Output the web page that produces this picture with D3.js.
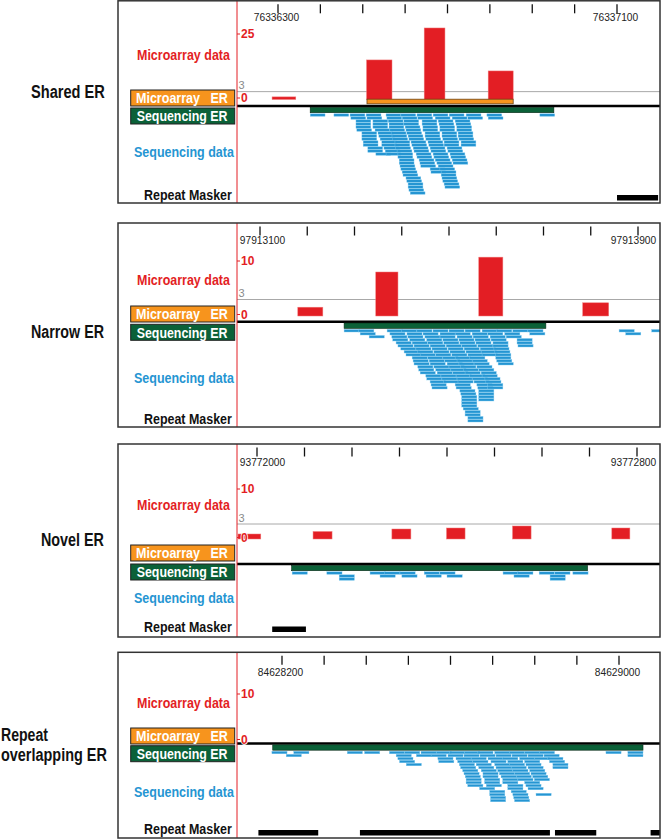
<!DOCTYPE html>
<html>
<head>
<meta charset="utf-8">
<script src="https://cdn.jsdelivr.net/npm/d3@7"></script>
<style>
  body { margin: 0; background: #fff; }
  svg { display: block; }
</style>
</head>
<body>
<script>
// ---- data (genomic positions are bp offsets from each region's first tick) ----

// Shared ER
const p1Region = [76336300, 76337100];
const p1Probes = [[-14, 42, 1.0], [209, 269, 15.1], [345, 394, 27.3], [496, 555, 10.9]];
const p1ArrayER = [[210, 555]];
const p1SeqER = [[76, 651]];
const p1Repeats = [[800, 897]];
const p1Reads = [
  [76, 132, 170, 208, 255, 290, 328, 366, 404, 444, 493, 618],
  [172, 210, 257, 293, 330, 371, 411, 448, 496],
  [184, 224, 260, 297, 340, 378, 418],
  [184, 224, 262, 297, 340, 380, 420],
  [184, 224, 262, 300, 342, 382, 422],
  [186, 229, 264, 302, 342, 382, 422],
  [198, 236, 267, 304, 347, 387, 425],
  [198, 238, 269, 307, 347, 387, 425],
  [198, 241, 271, 309, 349, 389, 427],
  [201, 245, 276, 314, 354, 392, 432],
  [201, 245, 276, 316, 356, 392, 432],
  [212, 250, 278, 319, 359, 399],
  [212, 253, 281, 321, 361, 401],
  [231, 255, 283, 326, 366, 406],
  [283, 328, 368, 408],
  [286, 333, 371, 411],
  [286, 335, 375, 413],
  [288, 337, 378],
  [290, 359, 382],
  [293, 361, 385],
  [295, 385],
  [302, 387],
  [304, 389],
  [307, 392],
  [307, 394],
  [309],
  [312]
];

// Narrow ER
const p2Region = [97913100, 97913900];
const p2Probes = [[80, 133, 1.6], [245, 292, 8.0], [463, 514, 10.7], [683, 738, 2.4]];
const p2ArrayER = [];
const p2SeqER = [[178, 605]];
const p2Repeats = [];
const p2Reads = [
  [178, 209, 269, 300, 332, 366, 400, 434, 470, 501, 535, 567, 760, 829],
  [212, 275, 311, 345, 381, 413, 449, 482, 518, 571, 774],
  [231, 279, 313, 349, 381, 417, 451, 487, 521],
  [281, 317, 353, 387, 421, 455, 489, 544],
  [288, 322, 355, 389, 423, 457, 493, 544],
  [292, 326, 360, 394, 427, 461, 493, 546],
  [298, 330, 364, 398, 432, 466, 495],
  [305, 334, 368, 402, 436, 468, 497],
  [309, 339, 372, 406, 440, 470, 499],
  [322, 355, 387, 413, 444, 499],
  [324, 358, 391, 417, 449, 501],
  [326, 360, 396, 421, 453, 504],
  [334, 368, 400, 425, 459],
  [336, 372, 404, 430, 463],
  [339, 375, 408, 434, 468],
  [351, 383, 415, 444, 470],
  [353, 385, 417, 449, 476],
  [360, 389, 419, 453, 478],
  [362, 413, 459, 482],
  [364, 415, 461, 482],
  [423, 463],
  [425, 463],
  [427, 463],
  [427, 463],
  [427],
  [427],
  [430],
  [434],
  [434],
  [440],
  [440]
];

// Novel ER
const p3Region = [93772000, 93772800];
const p3Probes = [[-40, 8, 1.0], [118, 158, 1.5], [284, 324, 2.0], [399, 438, 2.2], [538, 577, 2.6], [747, 785, 2.2]];
const p3ArrayER = [];
const p3SeqER = [[73, 696]];
const p3Repeats = [[32, 103]];
const p3Reads = [
  [74, 147, 238, 269, 301, 352, 385, 518, 549, 594, 627, 665],
  [173, 259, 305, 356, 400, 541, 617],
  [173, 617]
];

// Repeat overlapping ER
const p4Region = [84628200, 84629000];
const p4Probes = [];
const p4ArrayER = [];
const p4SeqER = [[-22, 857]];
const p4Repeats = [[-56, 86], [185, 636], [648, 746], [875, 905]];
const p4Reads = [
  [-24, 28, 155, 196, 255, 291, 330, 366, 398, 433, 465, 505, 540, 576, 611, 769, 821],
  [10, 271, 319, 354, 394, 432, 470, 508, 546, 584, 622, 821],
  [275, 370, 413, 449, 489, 524, 564, 599, 631],
  [279, 372, 417, 453, 496, 536, 576, 635],
  [295, 421, 461, 505, 540, 579, 643],
  [424, 467, 508, 544, 584, 643],
  [429, 473, 512, 548, 588],
  [432, 477, 516, 552, 591],
  [435, 477, 520, 556, 595],
  [437, 481, 524, 560, 599],
  [437, 481, 524, 576],
  [441, 485, 536, 579],
  [469, 536, 584],
  [493, 544],
  [493, 548, 603],
  [495, 550],
  [495, 552]
];

const titles = [["Shared ER"], ["Narrow ER"], ["Novel ER"], ["Repeat", "overlapping ER"]];
const yMaxLabels = [25, 10, 10, 10];
const thresholds = [3, 3, 3, null];
const readLengths = [35, 32, 32, 36];

// ---- layout ----
const W = 661, H = 839;
const boxLeft = 118, boxRight = 660, plotLeft = 237;
const layout = [
  { top: 0.8, bottom: 203, xr: [278, 617], yr: [99.5, 34], base: 106, tickLab: 17,
    titleY: [92], titleX: 105, titleLen: [74], maData: 55, maBox: 90, seqBox: 108, seqData: 151.7, rm: 195, rmY: 195 },
  { top: 223, bottom: 427, xr: [260, 638], yr: [316, 261], base: 321.7, tickLab: 240.7,
    titleY: [331.7], titleX: 104, titleLen: [73], maData: 279.3, maBox: 306, seqBox: 324.3, seqData: 378, rm: 419, rmY: 419 },
  { top: 444, bottom: 637, xr: [257, 637], yr: [539, 489], base: 564, tickLab: 462.7,
    titleY: [540], titleX: 104, titleLen: [63], maData: 505, maBox: 545, seqBox: 564, seqData: 597.3, rm: 626.7, rmY: 626.5 },
  { top: 652.3, bottom: 838, xr: [282, 619], yr: [741, 694], base: 743.5, tickLab: 672,
    titleY: [735, 755], titleX: 1, titleLen: [47, 106], maData: 702.3, maBox: 728, seqBox: 745.7, seqData: 791.7, rm: 828.3, rmY: 830 }
];

const data = [
  { region: p1Region, probes: p1Probes, arrayER: p1ArrayER, seqER: p1SeqER, repeats: p1Repeats, reads: p1Reads },
  { region: p2Region, probes: p2Probes, arrayER: p2ArrayER, seqER: p2SeqER, repeats: p2Repeats, reads: p2Reads },
  { region: p3Region, probes: p3Probes, arrayER: p3ArrayER, seqER: p3SeqER, repeats: p3Repeats, reads: p3Reads },
  { region: p4Region, probes: p4Probes, arrayER: p4ArrayER, seqER: p4SeqER, repeats: p4Repeats, reads: p4Reads }
];

const RED = "#e31e24", ORANGE = "#f7941d", GREEN = "#0b6138", BLUE = "#2595d2";
const NARROW = "'Liberation Sans Narrow', 'Arial Narrow', 'Liberation Sans', Arial, sans-serif";
const SANS = "'Liberation Sans', Arial, sans-serif";

const svg = d3.select("body").append("svg")
  .attr("width", W)
  .attr("height", H)
  .attr("viewBox", [0, 0, W, H]);

// Condensed text: squeeze horizontally to a target width (anchor "start" or "end").
function fitText(parent, txt, xPos, yc, width, anchor, size, color, weight) {
  const t = parent.append("text")
    .attr("font-family", NARROW)
    .attr("font-weight", weight || "bold")
    .attr("font-size", size)
    .attr("fill", color)
    .attr("dy", "0.35em")
    .style("white-space", "pre")
    .text(txt);
  const natural = t.node().getComputedTextLength();
  const sx = width / natural;
  const x0 = anchor === "end" ? xPos - width : xPos;
  t.attr("transform", `translate(${x0},${yc}) scale(${sx},1)`);
  return t;
}

data.forEach((d, i) => {
  const L = layout[i];
  const g = svg.append("g");
  const start = d.region[0];

  const x = d3.scaleLinear().domain(d.region).range(L.xr);
  const y = d3.scaleLinear().domain([0, yMaxLabels[i]]).range(L.yr);

  // clip for the track area
  const clipId = "clip" + i;
  svg.append("clipPath").attr("id", clipId)
    .append("rect")
    .attr("x", plotLeft).attr("y", L.top)
    .attr("width", boxRight - plotLeft).attr("height", L.bottom - L.top);

  // panel title at the far left
  const single = titles[i].length === 1;
  titles[i].forEach((s, k) => {
    fitText(g, s, L.titleX, L.titleY[k], L.titleLen[k], single ? "end" : "start", 18.5, "#111");
  });

  // track labels
  fitText(g, "Microarray data", 230, L.maData, 93, "end", 15.5, RED);
  fitText(g, "Sequencing data", 234, L.seqData, 100, "end", 15.5, BLUE);
  fitText(g, "Repeat Masker", 232, L.rm, 88, "end", 15.5, "#111");

  g.append("rect")
    .attr("x", 130.7).attr("y", L.maBox).attr("width", 104).attr("height", 16)
    .attr("fill", ORANGE).attr("stroke", "#222").attr("stroke-width", 1);
  fitText(g, "Microarray   ER", 136, L.maBox + 8, 92, "start", 15.5, "#fff");
  g.append("rect")
    .attr("x", 130.7).attr("y", L.seqBox).attr("width", 104).attr("height", 16)
    .attr("fill", GREEN).attr("stroke", "#222").attr("stroke-width", 1);
  fitText(g, "Sequencing ER", 136.7, L.seqBox + 8, 91, "start", 15.5, "#fff");

  // coordinate ticks across the top
  const ticks = d3.range(d.region[0], d.region[1] + 1, 100);
  g.append("g").selectAll("line")
    .data(ticks)
    .join("line")
    .attr("x1", v => x(v)).attr("x2", v => x(v))
    .attr("y1", L.top + 3.5).attr("y2", L.top + 12.5)
    .attr("stroke", "#111").attr("stroke-width", 1.3);
  // end labels, kept inside the track area
  const halfLab = 22.5;
  g.append("g").selectAll("text")
    .data([ticks[0], ticks[ticks.length - 1]])
    .join("text")
    .attr("x", v => Math.max(plotLeft + 3 + halfLab, Math.min(boxRight - 4 - halfLab, x(v) - 1.5)))
    .attr("y", L.tickLab).attr("dy", "0.35em")
    .attr("text-anchor", "middle")
    .attr("font-family", SANS).attr("font-size", 10.2).attr("fill", "#222")
    .text(v => v);

  const tracks = g.append("g").attr("clip-path", `url(#${clipId})`);

  // threshold line
  if (thresholds[i] !== null) {
    tracks.append("line")
      .attr("x1", plotLeft).attr("x2", boxRight)
      .attr("y1", y(thresholds[i])).attr("y2", y(thresholds[i]))
      .attr("stroke", "#a8a8a8").attr("stroke-width", 1);
  }

  // microarray probe bars
  tracks.append("g").selectAll("rect")
    .data(d.probes)
    .join("rect")
    .attr("x", p => x(start + p[0]))
    .attr("width", p => x(start + p[1]) - x(start + p[0]))
    .attr("y", p => y(p[2]))
    .attr("height", p => y(0) - y(p[2]))
    .attr("fill", RED)
    .attr("stroke", "#f07a7a").attr("stroke-width", 0.5);

  // microarray ER
  tracks.append("g").selectAll("rect")
    .data(d.arrayER)
    .join("rect")
    .attr("x", e => x(start + e[0]))
    .attr("width", e => x(start + e[1]) - x(start + e[0]))
    .attr("y", y(0) - 0.3).attr("height", 4.6)
    .attr("fill", ORANGE).attr("stroke", "#6b4212").attr("stroke-width", 0.8);

  // black divider
  tracks.append("line")
    .attr("x1", plotLeft).attr("x2", boxRight)
    .attr("y1", L.base).attr("y2", L.base)
    .attr("stroke", "#000").attr("stroke-width", 2.6);

  // sequencing ER
  tracks.append("g").selectAll("rect")
    .data(d.seqER)
    .join("rect")
    .attr("x", e => x(start + e[0]))
    .attr("width", e => x(start + e[1]) - x(start + e[0]))
    .attr("y", L.base + 1.3).attr("height", 5.4)
    .attr("fill", GREEN).attr("stroke", "#0a2a18").attr("stroke-width", 0.6);

  // sequencing reads
  const readLen = readLengths[i];
  const flat = [];
  d.reads.forEach((row, r) => row.forEach(s => flat.push({ s, r })));
  tracks.append("g").selectAll("rect")
    .data(flat)
    .join("rect")
    .attr("x", o => x(start + o.s))
    .attr("width", o => x(start + o.s + readLen) - x(start + o.s))
    .attr("y", o => L.base + 7.8 + o.r * 3)
    .attr("height", 2.5)
    .attr("fill", BLUE)
    .attr("stroke", "#7fcaf0").attr("stroke-width", 0.4);

  // repeats
  tracks.append("g").selectAll("rect")
    .data(d.repeats)
    .join("rect")
    .attr("x", e => x(start + e[0]))
    .attr("width", e => x(start + e[1]) - x(start + e[0]))
    .attr("y", L.rmY).attr("height", 5.5)
    .attr("fill", "#000");

  // red vertical axis line
  g.append("line")
    .attr("x1", plotLeft).attr("x2", plotLeft)
    .attr("y1", L.top).attr("y2", L.bottom)
    .attr("stroke", RED).attr("stroke-width", 1);

  // y axis labels
  const yLabs = [yMaxLabels[i], 0];
  g.append("g").selectAll("line")
    .data(yLabs)
    .join("line")
    .attr("x1", plotLeft).attr("x2", plotLeft + 3)
    .attr("y1", v => y(v) - (v === 0 ? 1.5 : 0)).attr("y2", v => y(v) - (v === 0 ? 1.5 : 0))
    .attr("stroke", RED).attr("stroke-width", 1);
  g.append("g").selectAll("text")
    .data(yLabs)
    .join("text")
    .attr("x", plotLeft + 4).attr("y", v => y(v) - (v === 0 ? 1.5 : 0)).attr("dy", "0.35em")
    .attr("font-family", NARROW).attr("font-weight", "bold").attr("font-size", 12)
    .attr("fill", RED)
    .attr("paint-order", "stroke").attr("stroke", "#fff").attr("stroke-width", v => v === 0 ? 1.5 : 0)
    .text(v => v);
  if (thresholds[i] !== null) {
    g.append("text")
      .attr("x", plotLeft + 1.5).attr("y", y(thresholds[i]) - 6).attr("dy", "0.35em")
      .attr("font-family", SANS).attr("font-size", 11).attr("fill", "#8a8a8a")
      .text(thresholds[i]);
  }

  // panel box
  g.append("rect")
    .attr("x", boxLeft).attr("y", L.top)
    .attr("width", boxRight - boxLeft).attr("height", L.bottom - L.top)
    .attr("fill", "none").attr("stroke", "#333").attr("stroke-width", 1.5);
});
</script>
</body>
</html>
